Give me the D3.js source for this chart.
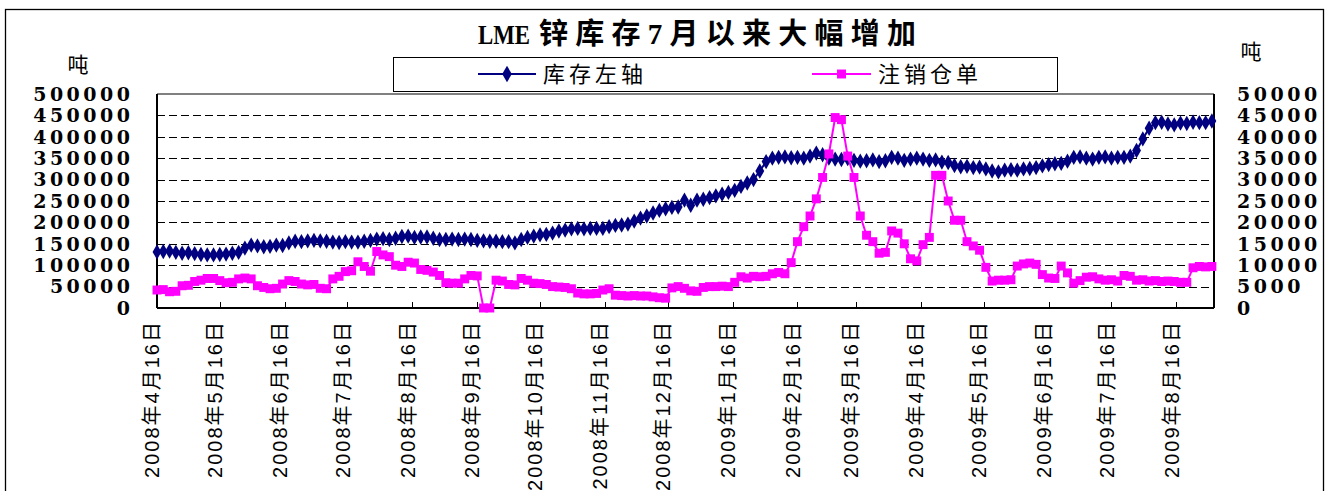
<!DOCTYPE html>
<html><head><meta charset="utf-8">
<script src="https://cdn.jsdelivr.net/npm/d3@7"></script>
<style>body{margin:0;background:#fff}svg{display:block}</style>
</head><body><svg id="c" width="1328" height="491"></svg>
<script>
// ---- data ----
const startDate = "2008-04-16";
const stepDays = 3;
const endDate = "2009-09-03";
const stockValues = [131000,132000,133000,130000,128000,129000,127000,125000,124000,124000,
125000,126000,128000,130000,140000,147000,145000,143000,144000,147000,
146000,152000,156000,155000,157000,158000,157000,156000,154000,153000,
155000,154000,154000,156000,158000,161000,162000,160000,163000,167000,
168000,165000,166000,166000,163000,160000,160000,161000,160000,161000,
160000,158000,157000,156000,156000,155000,155000,152000,160000,165000,
168000,171000,172000,175000,180000,182000,185000,186000,185000,186000,
186000,186000,190000,193000,194000,196000,203000,210000,215000,222000,
228000,232000,235000,236000,252000,240000,252000,254000,258000,262000,
266000,270000,275000,284000,292000,300000,320000,342000,350000,352000,
353000,351000,352000,350000,355000,362000,358000,350000,348000,347000,
349000,345000,343000,344000,346000,342000,344000,352000,350000,345000,
348000,350000,348000,345000,346000,341000,340000,333000,330000,331000,
328000,329000,325000,320000,318000,322000,323000,322000,325000,326000,
328000,332000,335000,337000,338000,343000,352000,353000,350000,348000,
352000,353000,350000,352000,352000,355000,368000,395000,420000,433000,
434000,430000,428000,432000,431000,434000,433000,433000,437000];
const cancelledValues = [4200,4300,3800,3900,5200,5300,6200,6500,6900,6900,
6400,5900,6000,6800,7000,6800,5200,4800,4500,4600,
5600,6400,6200,5600,5400,5500,4600,4500,6800,7400,
8500,8700,10800,9700,8600,13200,12400,12000,10000,9700,
10700,10500,9000,8800,8400,7600,5900,5800,5800,6800,
7600,7500,0,0,6500,6300,5500,5400,6900,6500,
5800,5700,5500,5000,4900,4800,4500,3500,3300,3300,
3400,4200,4500,3000,2900,2800,2900,2800,2800,2600,
2400,2300,4700,5000,4600,4000,3900,4800,5000,5000,
5100,5000,6000,7300,7000,7400,7300,7400,8000,8300,
8000,10600,15500,19000,21500,25500,30500,36000,44500,44000,
35500,30500,21500,17000,15500,12800,13000,18000,17500,15000,
11500,11000,14800,16500,31000,31000,25000,20500,20500,15500,
14500,13500,9500,6300,6500,6500,6600,9800,10300,10500,
10200,7800,7000,6900,9800,8200,5800,6400,7200,7300,
6800,6500,6600,6300,7600,7400,6500,6600,6300,6400,
6200,6300,6200,6000,6000,9400,9700,9600,9700];
const leftTicks = [0,50000,100000,150000,200000,250000,300000,350000,400000,450000,500000];
const rightTicks = [0,5000,10000,15000,20000,25000,30000,35000,40000,45000,50000];
const tickDates = ["2008-04-16","2008-05-16","2008-06-16","2008-07-16","2008-08-16","2008-09-16",
"2008-10-16","2008-11-16","2008-12-16","2009-01-16","2009-02-16","2009-03-16","2009-04-16",
"2009-05-16","2009-06-16","2009-07-16","2009-08-16"];
const tickLabels = ["2008年4月16日","2008年5月16日","2008年6月16日","2008年7月16日","2008年8月16日",
"2008年9月16日","2008年10月16日","2008年11月16日","2008年12月16日","2009年1月16日","2009年2月16日",
"2009年3月16日","2009年4月16日","2009年5月16日","2009年6月16日","2009年7月16日","2009年8月16日"];
const titleLatin = "LME";
const titleRest = "锌库存7月以来大幅增加";
const seriesNames = ["库存左轴","注销仓单"];
const unitLabel = "吨";

// ---- drawing ----
const svg = d3.select("#c");
const parse = d3.utcParse("%Y-%m-%d");
const t0 = parse(startDate);
const dates = stockValues.map((d,i)=>d3.utcDay.offset(t0, i*stepDays));
const L = 157, R = 1214, T = 94, B = 308;
const x = d3.scaleUtc().domain([t0, parse(endDate)]).range([L, R]);
const yL = d3.scaleLinear().domain([0,500000]).range([B, T]);
const yR = d3.scaleLinear().domain([0,50000]).range([B, T]);
const NAVY = "#000080", PINK = "#FF00FF";
const numFont = "'DejaVu Serif', serif";
const cjk = "'Noto Sans CJK SC', sans-serif";

// outer frame
svg.append("rect").attr("x",5.5).attr("y",9.5).attr("width",1318).attr("height",500)
  .attr("fill","none").attr("stroke","#000").attr("stroke-width",1.3);

// title
svg.append("text").attr("x",478).attr("y",44).text(titleLatin)
  .attr("font-family","'Liberation Serif',serif").attr("font-weight","bold")
  .attr("font-size",28).attr("textLength",52).attr("lengthAdjust","spacingAndGlyphs");
svg.append("text").attr("x",539).attr("y",44).text(titleRest)
  .attr("font-family","'Liberation Serif','Noto Sans CJK SC',serif").attr("font-weight","bold")
  .attr("font-size",29).attr("textLength",377).attr("lengthAdjust","spacing");

// legend
const lg = svg.append("g");
lg.append("rect").attr("x",393.5).attr("y",57.5).attr("width",664).attr("height",34)
  .attr("fill","#fff").attr("stroke","#000").attr("stroke-width",1);
const legendItems = [
  {name:seriesNames[0], color:NAVY, shape:d3.symbolDiamond, x1:478, x2:536, tx:543},
  {name:seriesNames[1], color:PINK, shape:d3.symbolSquare, x1:812, x2:871, tx:878}
];
legendItems.forEach(it=>{
  lg.append("line").attr("x1",it.x1).attr("x2",it.x2).attr("y1",74).attr("y2",74)
    .attr("stroke",it.color).attr("stroke-width",2);
  lg.append("path").attr("d",d3.symbol(it.shape, 80)()).attr("fill",it.color)
    .attr("transform",`translate(${(it.x1+it.x2)/2},74)`);
  lg.append("text").attr("x",it.tx).attr("y",82).text(it.name)
    .attr("font-family",cjk).attr("font-size",22).attr("textLength",100).attr("lengthAdjust","spacing");
});

// unit labels
svg.append("text").attr("x",78).attr("y",72).attr("text-anchor","middle").text(unitLabel)
  .attr("font-family",cjk).attr("font-size",21);
svg.append("text").attr("x",1251).attr("y",59).attr("text-anchor","middle").text(unitLabel)
  .attr("font-family",cjk).attr("font-size",21);

// gridlines
svg.append("g").selectAll("line").data(leftTicks.filter(v=>v>0 && v<500000)).join("line")
  .attr("x1",L).attr("x2",R).attr("y1",d=>Math.round(yL(d))+0.5).attr("y2",d=>Math.round(yL(d))+0.5)
  .attr("stroke","#000").attr("stroke-width",1).attr("stroke-dasharray","8,4");

// plot border (top) and axes
svg.append("line").attr("x1",L).attr("x2",R).attr("y1",T).attr("y2",T).attr("stroke","#808080").attr("stroke-width",2);
svg.append("line").attr("x1",L).attr("x2",L).attr("y1",T).attr("y2",B).attr("stroke","#000").attr("stroke-width",2);
svg.append("line").attr("x1",R).attr("x2",R).attr("y1",T).attr("y2",B).attr("stroke","#000").attr("stroke-width",2);
svg.append("line").attr("x1",L).attr("x2",R).attr("y1",B).attr("y2",B).attr("stroke","#000").attr("stroke-width",2);

// x ticks (inside)
const tdates = tickDates.map(parse);
svg.append("g").selectAll("line").data(tdates).join("line")
  .attr("x1",d=>Math.round(x(d))+0.5).attr("x2",d=>Math.round(x(d))+0.5)
  .attr("y1",B).attr("y2",B-6).attr("stroke","#000").attr("stroke-width",1);

// left y labels
svg.append("g").selectAll("text").data(leftTicks).join("text")
  .attr("x",133.5).attr("y",d=>yL(d)).attr("dy","0.36em").attr("text-anchor","end")
  .attr("font-family",numFont).attr("font-weight","bold").attr("font-size",19)
  .attr("letter-spacing","3.5px").text(d=>String(d));
// right y labels
svg.append("g").selectAll("text").data(rightTicks).join("text")
  .attr("x",1237).attr("y",d=>yR(d)).attr("dy","0.36em").attr("text-anchor","start")
  .attr("font-family",numFont).attr("font-weight","bold").attr("font-size",19)
  .attr("letter-spacing","3.5px").text(d=>String(d));

// x labels
svg.append("g").selectAll("text").data(tdates).join("text")
  .attr("transform",d=>`translate(${x(d)-5},320) rotate(-90)`)
  .attr("text-anchor","end").attr("dy","0.36em")
  .attr("font-family","'Liberation Sans','Noto Sans CJK SC',sans-serif").attr("font-size",20)
  .attr("letter-spacing","2px")
  .text((d,i)=>tickLabels[i]);

// series: stock (left axis)
const lineL = d3.line().x((d,i)=>x(dates[i])).y(d=>yL(d));
svg.append("path").datum(stockValues).attr("d",lineL).attr("fill","none")
  .attr("stroke",NAVY).attr("stroke-width",2);
svg.append("g").selectAll("path").data(stockValues).join("path")
  .attr("d",d3.symbol(d3.symbolDiamond,68)())
  .attr("transform",(d,i)=>`translate(${x(dates[i])},${yL(d)})`).attr("fill",NAVY);

// series: cancelled warrants (right axis)
const lineR = d3.line().x((d,i)=>x(dates[i])).y(d=>yR(d));
svg.append("path").datum(cancelledValues).attr("d",lineR).attr("fill","none")
  .attr("stroke",PINK).attr("stroke-width",2);
svg.append("g").selectAll("path").data(cancelledValues).join("path")
  .attr("d",d3.symbol(d3.symbolSquare,80)())
  .attr("transform",(d,i)=>`translate(${x(dates[i])},${yR(d)})`).attr("fill",PINK);
</script></body></html>
